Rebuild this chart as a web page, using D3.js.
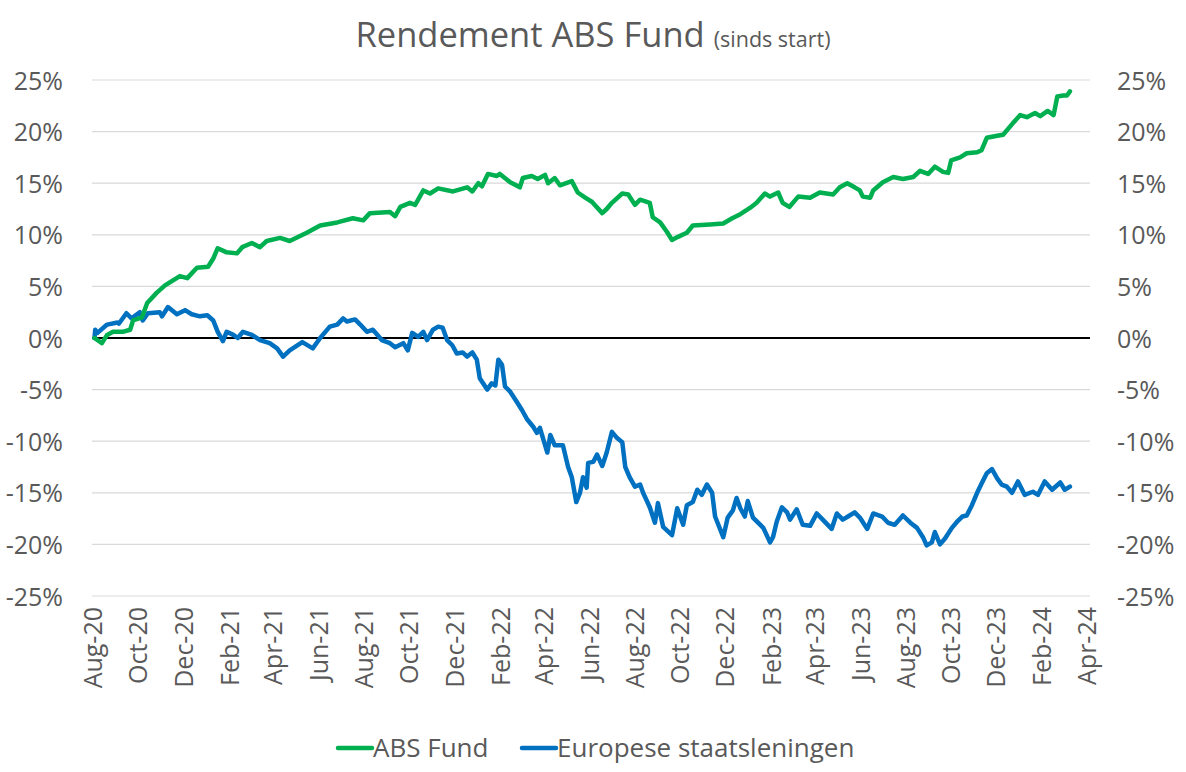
<!DOCTYPE html>
<html>
<head>
<meta charset="utf-8">
<script src="https://cdn.jsdelivr.net/npm/d3@7"></script>
<style>
  body { margin: 0; background: #fff; }
  text { font-family: "Open Sans", sans-serif; fill: #595959; }
</style>
</head>
<body>
<script>
let width = 1186,
  height = 772

// ABS Fund, cumulative return in %
let absDates = ['2020-08-03', '2020-08-13', '2020-08-20', '2020-08-28', '2020-09-10', '2020-09-20', '2020-09-24',
  '2020-10-06', '2020-10-13', '2020-10-26', '2020-11-06', '2020-11-26', '2020-12-06', '2020-12-19',
  '2021-01-03', '2021-01-10', '2021-01-16', '2021-01-28', '2021-02-11', '2021-02-18', '2021-03-03',
  '2021-03-14', '2021-03-23', '2021-04-10', '2021-04-23', '2021-05-16', '2021-06-03', '2021-06-26',
  '2021-07-17', '2021-07-31', '2021-08-09', '2021-09-05', '2021-09-12', '2021-09-19', '2021-10-02',
  '2021-10-09', '2021-10-20', '2021-10-29', '2021-11-09', '2021-11-29', '2021-12-18', '2021-12-25',
  '2022-01-02', '2022-01-07', '2022-01-15', '2022-01-27', '2022-01-31', '2022-02-14', '2022-02-27',
  '2022-03-03', '2022-03-15', '2022-03-23', '2022-04-02', '2022-04-06', '2022-04-15', '2022-04-22',
  '2022-05-08', '2022-05-16', '2022-05-26', '2022-06-04', '2022-06-18', '2022-06-24', '2022-07-01',
  '2022-07-15', '2022-07-23', '2022-08-01', '2022-08-08', '2022-08-21', '2022-08-25', '2022-09-04',
  '2022-09-13', '2022-09-20', '2022-09-28', '2022-10-10', '2022-10-18', '2022-11-10', '2022-11-28',
  '2022-12-10', '2022-12-21', '2023-01-03', '2023-01-12', '2023-01-23', '2023-01-30', '2023-02-10',
  '2023-02-16', '2023-02-25', '2023-03-09', '2023-03-25', '2023-04-07', '2023-04-25', '2023-05-04',
  '2023-05-14', '2023-05-24', '2023-05-31', '2023-06-04', '2023-06-14', '2023-06-18', '2023-07-01',
  '2023-07-15', '2023-07-28', '2023-08-11', '2023-08-20', '2023-08-31', '2023-09-09', '2023-09-20',
  '2023-09-27', '2023-10-01', '2023-10-13', '2023-10-22', '2023-11-05', '2023-11-11', '2023-11-18',
  '2023-12-02', '2023-12-10', '2023-12-23', '2024-01-02', '2024-01-11', '2024-01-22', '2024-01-29',
  '2024-02-08', '2024-02-16', '2024-02-21', '2024-02-29', '2024-03-05', '2024-03-09']
let absValues = [0.0, -0.5, 0.3, 0.6, 0.6, 0.8, 1.7,
  2.0, 3.4, 4.4, 5.1, 6.0, 5.8, 6.8,
  6.9, 7.7, 8.7, 8.3, 8.2, 8.8, 9.2,
  8.8, 9.4, 9.7, 9.4, 10.2, 10.9, 11.2,
  11.6, 11.4, 12.1, 12.2, 11.8, 12.7, 13.1,
  12.9, 14.3, 14.0, 14.5, 14.2, 14.6, 14.2,
  15.0, 14.7, 15.9, 15.7, 15.9, 15.1, 14.6,
  15.5, 15.7, 15.4, 15.8, 15.0, 15.5, 14.8,
  15.2, 14.1, 13.6, 13.2, 12.1, 12.5, 13.1,
  14.0, 13.9, 12.9, 13.4, 13.1, 11.7, 11.2,
  10.3, 9.5, 9.8, 10.2, 10.9, 11.0, 11.1,
  11.6, 12.0, 12.6, 13.1, 14.0, 13.7, 14.1,
  13.1, 12.7, 13.7, 13.6, 14.1, 13.9, 14.6,
  15.0, 14.6, 14.3, 13.7, 13.6, 14.3, 15.1,
  15.6, 15.4, 15.6, 16.2, 15.9, 16.6, 16.1,
  16.0, 17.2, 17.5, 17.9, 18.0, 18.2, 19.4,
  19.6, 19.7, 20.8, 21.6, 21.4, 21.8, 21.5,
  22.0, 21.6, 23.4, 23.5, 23.5, 23.9]

// Europese staatsleningen, cumulative return in %
let govDates = ['2020-08-03', '2020-08-04', '2020-08-07', '2020-08-20', '2020-09-03', '2020-09-05', '2020-09-15',
  '2020-09-22', '2020-10-03', '2020-10-07', '2020-10-14', '2020-10-30', '2020-11-02', '2020-11-10',
  '2020-11-22', '2020-12-03', '2020-12-12', '2020-12-23', '2021-01-02', '2021-01-10', '2021-01-16',
  '2021-01-23', '2021-01-28', '2021-02-06', '2021-02-12', '2021-02-19', '2021-03-03', '2021-03-14',
  '2021-03-27', '2021-04-06', '2021-04-14', '2021-04-23', '2021-05-10', '2021-05-24', '2021-06-03',
  '2021-06-16', '2021-06-26', '2021-07-04', '2021-07-09', '2021-07-20', '2021-07-27', '2021-08-05',
  '2021-08-13', '2021-08-25', '2021-09-05', '2021-09-12', '2021-09-23', '2021-09-29', '2021-10-05',
  '2021-10-13', '2021-10-20', '2021-10-25', '2021-11-02', '2021-11-09', '2021-11-15', '2021-11-21',
  '2021-11-28', '2021-12-04', '2021-12-12', '2021-12-18', '2021-12-25', '2021-12-31', '2022-01-04',
  '2022-01-14', '2022-01-20', '2022-01-25', '2022-01-29', '2022-02-03', '2022-02-07', '2022-02-14',
  '2022-02-23', '2022-03-02', '2022-03-09', '2022-03-17', '2022-03-22', '2022-03-26', '2022-04-05',
  '2022-04-09', '2022-04-15', '2022-04-26', '2022-05-03', '2022-05-08', '2022-05-14', '2022-05-19',
  '2022-05-23', '2022-05-28', '2022-05-30', '2022-06-06', '2022-06-11', '2022-06-18', '2022-06-24',
  '2022-07-01', '2022-07-08', '2022-07-15', '2022-07-19', '2022-07-25', '2022-08-01', '2022-08-08',
  '2022-08-12', '2022-08-21', '2022-08-28', '2022-09-01', '2022-09-08', '2022-09-20', '2022-09-27',
  '2022-10-05', '2022-10-10', '2022-10-18', '2022-10-24', '2022-10-30', '2022-11-06', '2022-11-13',
  '2022-11-17', '2022-11-28', '2022-12-04', '2022-12-11', '2022-12-16', '2022-12-21', '2022-12-27',
  '2022-12-31', '2023-01-07', '2023-01-21', '2023-01-30', '2023-02-03', '2023-02-08', '2023-02-15',
  '2023-02-22', '2023-02-26', '2023-03-07', '2023-03-15', '2023-03-25', '2023-04-03', '2023-04-11',
  '2023-04-23', '2023-04-30', '2023-05-08', '2023-05-15', '2023-05-24', '2023-05-31', '2023-06-10',
  '2023-06-18', '2023-06-30', '2023-07-08', '2023-07-17', '2023-07-28', '2023-08-07', '2023-08-16',
  '2023-08-24', '2023-08-29', '2023-09-05', '2023-09-09', '2023-09-16', '2023-09-23', '2023-10-02',
  '2023-10-09', '2023-10-16', '2023-10-22', '2023-10-29', '2023-11-05', '2023-11-11', '2023-11-18',
  '2023-11-25', '2023-12-02', '2023-12-08', '2023-12-15', '2023-12-22', '2023-12-30', '2024-01-08',
  '2024-01-19', '2024-01-26', '2024-02-04', '2024-02-14', '2024-02-25', '2024-03-02', '2024-03-09']
let govValues = [0.0, 0.8, 0.5, 1.3, 1.5, 1.4, 2.4,
  1.9, 2.5, 1.7, 2.4, 2.5, 2.1, 3.0,
  2.3, 2.7, 2.3, 2.1, 2.2, 1.7, 0.6,
  -0.3, 0.6, 0.3, 0.0, 0.6, 0.3, -0.2,
  -0.5, -1.0, -1.8, -1.2, -0.4, -1.0, 0.0,
  1.1, 1.3, 1.9, 1.6, 1.8, 1.3, 0.6,
  0.8, -0.2, -0.5, -0.9, -0.5, -1.2, 0.5,
  0.1, 0.6, -0.2, 0.8, 1.1, 1.0, -0.2,
  -0.7, -1.5, -1.4, -1.8, -1.4, -2.1, -3.9,
  -5.0, -4.4, -4.6, -2.1, -2.6, -4.7, -5.2,
  -6.2, -7.0, -7.9, -8.6, -9.2, -8.7, -11.1,
  -9.4, -10.4, -10.4, -12.5, -13.5, -15.9, -15.0,
  -13.5, -14.5, -12.1, -12.0, -11.3, -12.4, -11.1,
  -9.1, -9.7, -10.1, -12.5, -13.5, -14.4, -14.2,
  -15.0, -16.4, -17.9, -16.0, -18.3, -19.1, -16.5,
  -18.1, -16.2, -15.9, -14.7, -15.2, -14.2, -15.0,
  -17.3, -19.3, -17.4, -16.7, -15.5, -16.5, -17.3,
  -15.8, -17.4, -18.4, -19.8, -19.3, -17.8, -16.4,
  -16.9, -17.6, -16.6, -18.1, -18.2, -17.0, -17.6,
  -18.5, -17.0, -17.6, -17.3, -16.9, -17.4, -18.5,
  -17.0, -17.3, -17.9, -18.1, -17.2, -17.9, -18.4,
  -19.3, -20.1, -19.8, -18.8, -20.0, -19.4, -18.4,
  -17.8, -17.3, -17.2, -16.2, -15.0, -14.1, -13.1,
  -12.7, -13.6, -14.2, -14.4, -15.0, -13.9, -15.2,
  -14.9, -15.2, -13.9, -14.7, -14.0, -14.7, -14.4]

let yTicks = [25, 20, 15, 10, 5, 0, -5, -10, -15, -20, -25]
let xTickDates = ['2020-08-01', '2020-10-01', '2020-12-01', '2021-02-01', '2021-04-01', '2021-06-01',
  '2021-08-01', '2021-10-01', '2021-12-01', '2022-02-01', '2022-04-01', '2022-06-01', '2022-08-01',
  '2022-10-01', '2022-12-01', '2023-02-01', '2023-04-01', '2023-06-01', '2023-08-01', '2023-10-01',
  '2023-12-01', '2024-02-01', '2024-04-01']
let seriesNames = ['ABS Fund', 'Europese staatsleningen']
let seriesColors = ['#00b050', '#0070c0']

let parse = d3.timeParse('%Y-%m-%d')

let svg = d3.select('body').append('svg')
  .attr('width', width)
  .attr('height', height)

svg.append('rect')
  .attr('width', width)
  .attr('height', height)
  .attr('fill', '#fff')

let x = d3.scaleTime()
  .domain([parse('2020-08-01'), parse('2024-04-01')])
  .range([93, 1087])

let y = d3.scaleLinear()
  .domain([-25, 25])
  .range([596, 80])

// title
let title = svg.append('text')
  .attr('x', 593)
  .attr('y', 47)
  .attr('text-anchor', 'middle')
title.append('tspan')
  .attr('font-size', 34.5)
  .text('Rendement ABS Fund ')
title.append('tspan')
  .attr('font-size', 21.5)
  .text('(sinds start)')

// gridlines
svg.append('g')
  .selectAll('line')
  .data(yTicks.filter(d => d !== 0))
  .enter().append('line')
  .attr('x1', 92)
  .attr('x2', 1090)
  .attr('y1', d => y(d))
  .attr('y2', d => y(d))
  .attr('stroke', '#d9d9d9')
  .attr('stroke-width', 1.2)

// left axis
let leftAxis = svg.append('g')
  .attr('transform', 'translate(63,0)')
  .call(d3.axisLeft(y).tickValues(yTicks).tickFormat(d => d + '%').tickSize(0).tickPadding(0))
leftAxis.select('.domain').remove()
leftAxis.selectAll('text')
  .attr('font-size', 25)
  .attr('font-family', '"Open Sans", sans-serif')
  .attr('fill', '#595959')
  .attr('dy', '0.36em')

// right axis
let rightAxis = svg.append('g')
  .attr('transform', 'translate(1117,0)')
  .call(d3.axisRight(y).tickValues(yTicks).tickFormat(d => d + '%').tickSize(0).tickPadding(0))
rightAxis.select('.domain').remove()
rightAxis.selectAll('text')
  .attr('font-size', 25)
  .attr('font-family', '"Open Sans", sans-serif')
  .attr('fill', '#595959')
  .attr('dy', '0.36em')

// x axis labels, rotated
let fmt = d3.timeFormat('%b-%y')
svg.append('g')
  .selectAll('text')
  .data(xTickDates)
  .enter().append('text')
  .attr('transform', d => `translate(${x(parse(d))},607) rotate(-90)`)
  .attr('text-anchor', 'end')
  .attr('dy', '0.36em')
  .attr('font-size', 25)
  .text(d => fmt(parse(d)))

// zero line
svg.append('line')
  .attr('x1', 92)
  .attr('x2', 1090)
  .attr('y1', y(0))
  .attr('y2', y(0))
  .attr('stroke', '#000')
  .attr('stroke-width', 2)

let line = d3.line()
  .x(d => x(d[0]))
  .y(d => y(d[1]))

let series = [
  absDates.map((d, i) => [parse(d), absValues[i]]),
  govDates.map((d, i) => [parse(d), govValues[i]])
]

// draw blue first, green on top like the reference
svg.append('path')
  .datum(series[1])
  .attr('d', line)
  .attr('fill', 'none')
  .attr('stroke', seriesColors[1])
  .attr('stroke-width', 4.5)
  .attr('stroke-linejoin', 'round')
  .attr('stroke-linecap', 'round')

svg.append('path')
  .datum(series[0])
  .attr('d', line)
  .attr('fill', 'none')
  .attr('stroke', seriesColors[0])
  .attr('stroke-width', 4.5)
  .attr('stroke-linejoin', 'round')
  .attr('stroke-linecap', 'round')

// legend
let legendX = [338, 522]
let legend = svg.append('g')
  .selectAll('g')
  .data(seriesNames)
  .enter().append('g')
  .attr('transform', (d, i) => `translate(${legendX[i]},748)`)

legend.append('line')
  .attr('x1', 0)
  .attr('x2', 34)
  .attr('stroke', (d, i) => seriesColors[i])
  .attr('stroke-width', 4.5)
  .attr('stroke-linecap', 'round')

legend.append('text')
  .attr('x', 35)
  .attr('dy', '0.36em')
  .attr('font-size', 26)
  .text(d => d)
</script>
</body>
</html>
